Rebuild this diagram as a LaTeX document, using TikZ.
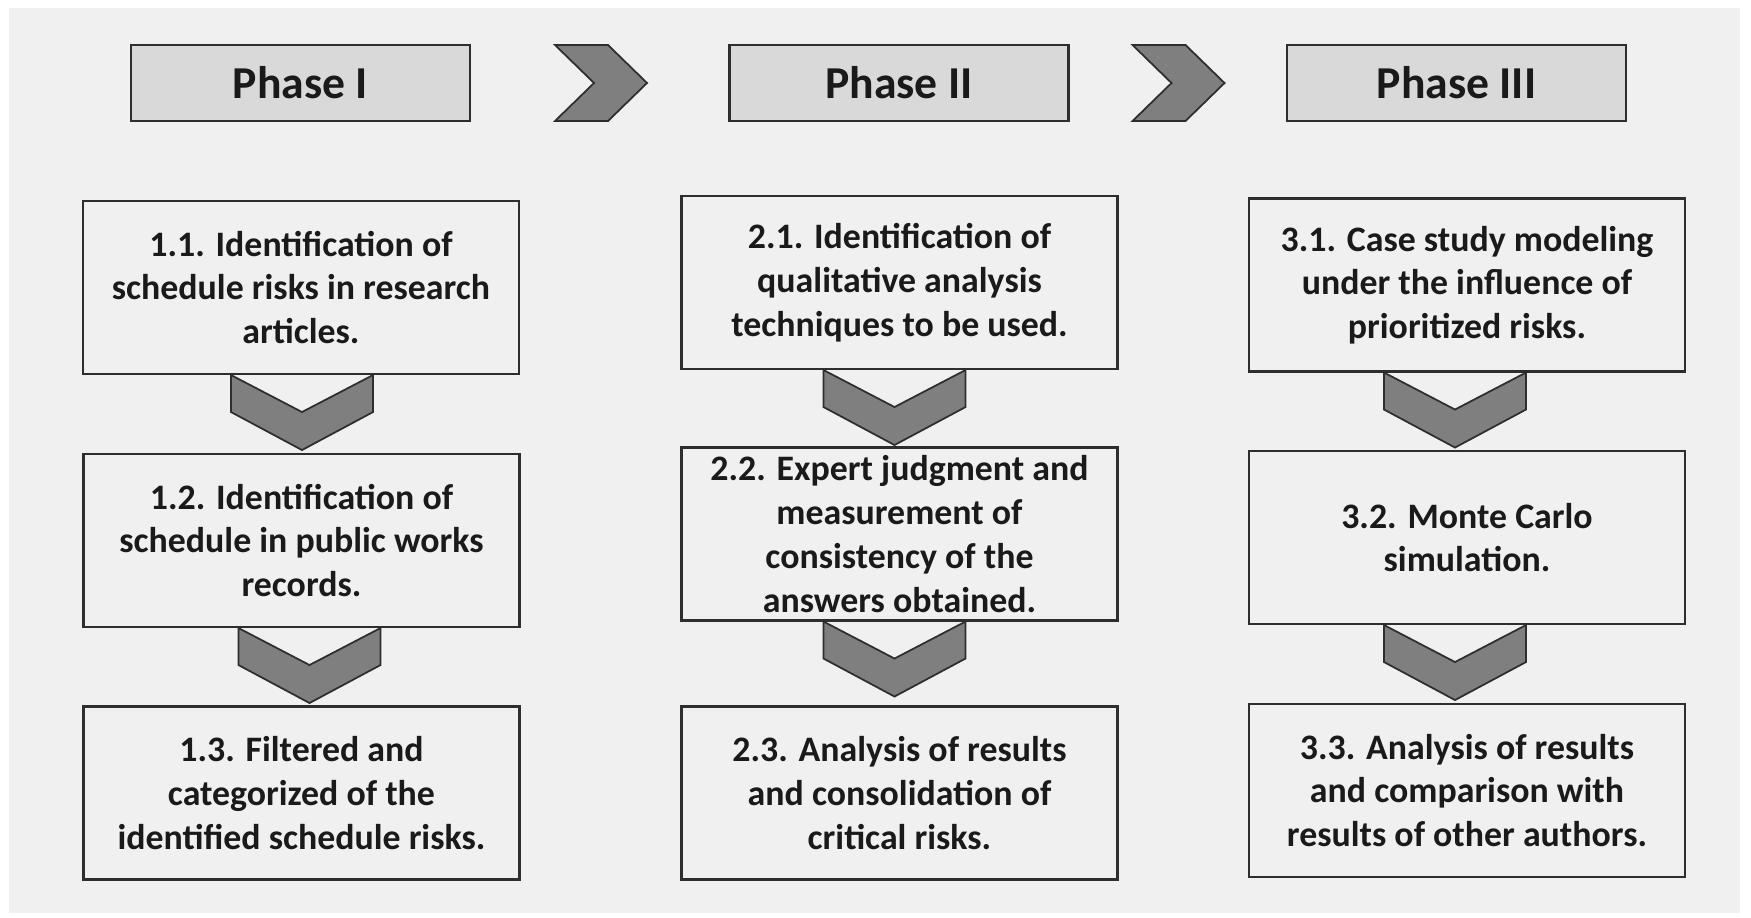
\documentclass[tikz,border=0pt]{standalone}
\usepackage{fontspec}
\setmainfont{Carlito}
\usepackage{tikz}
\usetikzlibrary{arrows.meta,positioning}
\definecolor{panelgray}{HTML}{F0F0F0}
\definecolor{headgray}{HTML}{D9D9D9}
\definecolor{chevgray}{HTML}{7F7F7F}
\definecolor{edgegray}{HTML}{2E2E2E}
\definecolor{inkgray}{HTML}{1A1A1A}

\begin{document}
\begin{tikzpicture}[x=0.02cm,y=-0.02cm,
  every node/.style={font=\fontsize{20.4}{24.9}\selectfont\bfseries,text=inkgray},
  phasebox/.style={draw=edgegray,line width=1.2pt,fill=headgray,minimum width=6.78cm,minimum height=1.52cm,inner sep=0pt,font=\fontsize{26}{31}\selectfont\bfseries},
  stepbox/.style={draw=edgegray,line width=1.2pt,minimum width=8.72cm,minimum height=3.46cm,inner sep=0pt,align=center},
  chev/.style={draw=edgegray,line width=1pt,fill=chevgray,line join=miter}]
\useasboundingbox (0,0) rectangle (1751,917);
\fill[white] (0,0) rectangle (1751,917);
\fill[panelgray] (9,8) rectangle (1740,913);

\node[phasebox] (p1) at (300.5,83) {Phase I};
\node[phasebox] (p2) at (899,83) {Phase II};
\node[phasebox] (p3) at (1456.5,83) {Phase III};
\foreach \a/\dx in {p1/84,p2/63}
  \draw[chev,shift={(\a.east)}] (\dx,-38) -- (\dx+53,-38) -- (\dx+92,0) -- (\dx+53,38) -- (\dx,38) -- (\dx+39,0) -- cycle;

\node[stepbox] (b11) at (301,287.5) {1.1. Identification of\\schedule risks in research\\articles.};
\node[stepbox] (b12) at (301.5,540.5) {1.2. Identification of\\schedule in public works\\records.};
\node[stepbox] (b13) at (301.5,793) {1.3. Filtered and\\categorized of the\\identified schedule risks.};
\node[stepbox] (b21) at (899.5,282.5) {2.1. Identification of\\qualitative analysis\\techniques to be used.};
\node[stepbox] (b22) at (899.5,534) {2.2. Expert judgment and\\measurement of\\consistency of the\\answers obtained.};
\node[stepbox] (b23) at (899.5,793) {2.3. Analysis of results\\and consolidation of\\critical risks.};
\node[stepbox] (b31) at (1467,285) {3.1. Case study modeling\\under the influence of\\prioritized risks.};
\node[stepbox] (b32) at (1467,537.5) {3.2. Monte Carlo\\simulation.};
\node[stepbox] (b33) at (1467,790.5) {3.3. Analysis of results\\and comparison with\\results of other authors.};

\foreach \a/\dx in {b11/1,b12/8,b21/-5,b22/-5,b31/-12,b32/-12}
  \draw[chev,shift={(\a.south)}] (\dx-71,0) -- (\dx,37) -- (\dx+71,0) -- (\dx+71,37) -- (\dx,75) -- (\dx-71,37) -- cycle;
\end{tikzpicture}
\end{document}
